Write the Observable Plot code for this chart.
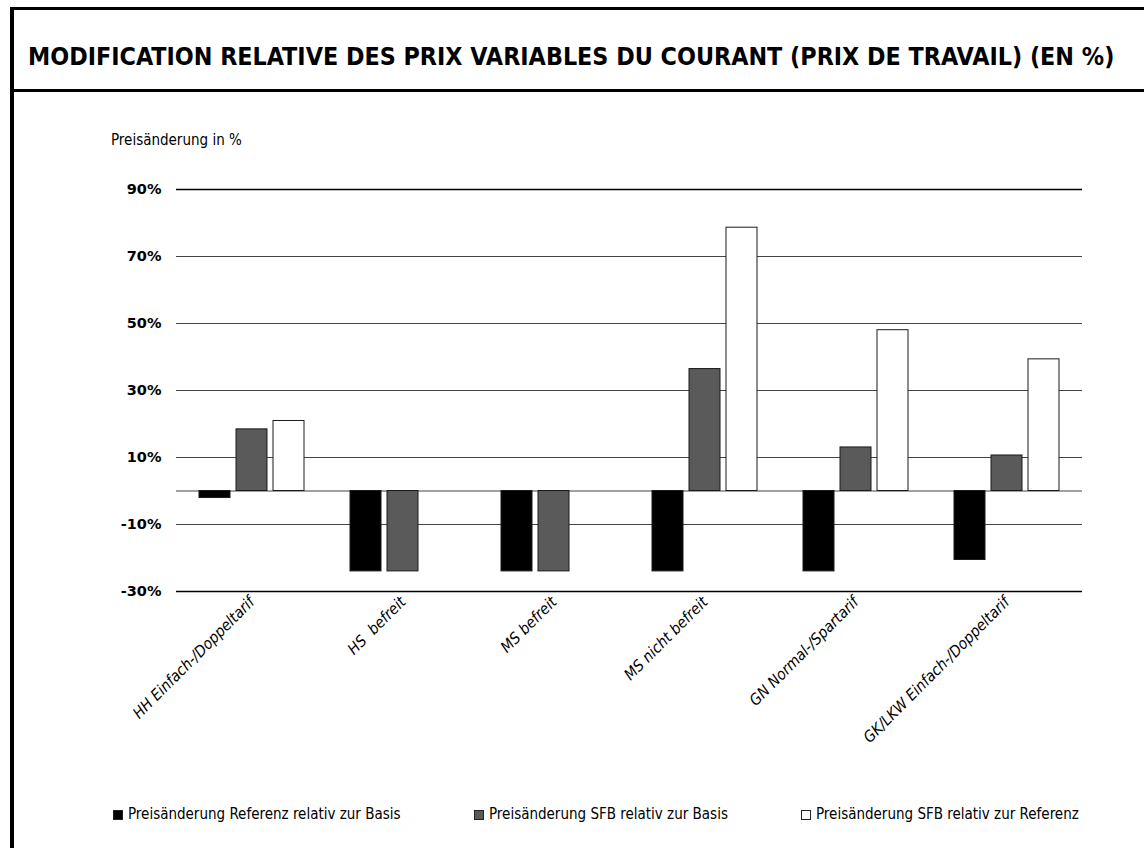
<!DOCTYPE html>
<html>
<head>
<meta charset="utf-8">
<script src="https://cdn.jsdelivr.net/npm/d3@7"></script>
<script src="https://cdn.jsdelivr.net/npm/@observablehq/plot@0.6"></script>
<style>
  html, body { margin: 0; padding: 0; background: #fff; }
  body { width: 1144px; height: 848px; position: relative; overflow: hidden; font-family: "DejaVu Sans Condensed", "DejaVu Sans", sans-serif; color: #000; }
  #frame { position: absolute; left: 10px; top: 7px; bottom: -5px; right: -5px; border-left: 4px solid #000; }
  #titlebox { position: absolute; left: 10px; top: 7px; right: -5px; height: 79px; border-top: 3px solid #000; border-bottom: 3px solid #000; border-left: 4px solid #000; }
  #title { position: absolute; left: 28px; top: 42px; font-weight: bold; font-size: 24.8px; line-height: 30px; white-space: nowrap; }
  #ylabel { position: absolute; left: 111px; top: 131px; font-size: 15px; line-height: 18px; }
  #chart { position: absolute; left: 0; top: 100px; }
  #chart svg { background: transparent; }
  #chart text { white-space: pre; }
  #legend { position: absolute; top: 804px; left: 0; width: 1144px; height: 20px; font-size: 15px; }
  .item { position: absolute; top: 0; line-height: 20px; white-space: nowrap; }
  .sw { display: inline-block; width: 10px; height: 10px; border: 1px solid #222; margin-right: 5px; vertical-align: -1px; box-sizing: border-box; }
</style>
</head>
<body>
<div id="frame"></div>
<div id="titlebox"></div>
<div id="title"></div>
<div id="ylabel"></div>
<div id="chart"></div>
<div id="legend"></div>
<script>
const titleText = "MODIFICATION RELATIVE DES PRIX VARIABLES DU COURANT (PRIX DE TRAVAIL) (EN %)";
const yLabelText = "Preisänderung in %";
const categories = ["HH Einfach-/Doppeltarif", "HS  befreit", "MS befreit", "MS nicht befreit", "GN Normal-/Spartarif", "GK/LKW Einfach-/Doppeltarif"];
const series = ["Preisänderung Referenz relativ zur Basis", "Preisänderung SFB relativ zur Basis", "Preisänderung SFB relativ zur Referenz"];
const refVsBasis = [-2.1, -24, -24, -24, -24, -20.6];
const sfbVsBasis = [18.4, -24, -24, 36.4, 13.0, 10.6];
const sfbVsRef = [20.9, null, null, 78.6, 48.0, 39.3];
const yTicks = [90, 70, 50, 30, 10, -10, -30];
const gridLines = [90, 70, 50, 30, 10, 0, -10, -30];
const seriesColors = ["#000000", "#5a5a5a", "#ffffff"];
const legendLeft = [113, 474, 801];

document.getElementById("title").textContent = titleText;
document.getElementById("ylabel").textContent = yLabelText;

const valuesBySeries = [refVsBasis, sfbVsBasis, sfbVsRef];
const data = categories.flatMap((c, i) =>
  series.map((s, j) => ({category: c, series: s, value: valuesBySeries[j][i]}))
).filter(d => d.value != null);

const chart = Plot.plot({
  width: 1144,
  height: 700,
  marginTop: 89,
  marginBottom: 209,
  marginLeft: 175,
  marginRight: 61,
  style: {fontFamily: "DejaVu Sans Condensed, DejaVu Sans, sans-serif", fontSize: "15px", background: "transparent", color: "#000"},
  fx: {domain: categories, padding: 0, label: null},
  x: {domain: series, paddingInner: 0.173, paddingOuter: 0.604, axis: null},
  y: {domain: [-30, 90], label: null},
  color: {domain: series, range: seriesColors},
  marks: [
    Plot.ruleY(gridLines, {stroke: d => (d === 90 || d === -30) ? "#000" : "#444", strokeWidth: d => (d === 90 || d === -30) ? 1.6 : 1}),
    Plot.barY(data, {fx: "category", x: "series", y: "value", fill: "series", stroke: "#1a1a1a", strokeWidth: 1}),
    Plot.axisY(yTicks, {tickSize: 0, tickPadding: 15, tickFormat: d => d + "%", fontWeight: "bold", fontSize: 14.5, fontFamily: "DejaVu Sans, sans-serif", label: null}),
    Plot.axisFx({anchor: "bottom", tickSize: 0, tickPadding: 8, tickRotate: -45, fontStyle: "italic", fontSize: 15.5, label: null})
  ]
});
document.getElementById("chart").appendChild(chart);

const legend = document.getElementById("legend");
series.forEach((s, i) => {
  const item = document.createElement("div");
  item.className = "item";
  item.style.left = legendLeft[i] + "px";
  const sw = document.createElement("span");
  sw.className = "sw";
  sw.style.background = seriesColors[i];
  item.appendChild(sw);
  item.appendChild(document.createTextNode(s));
  legend.appendChild(item);
});
</script>
</body>
</html>
